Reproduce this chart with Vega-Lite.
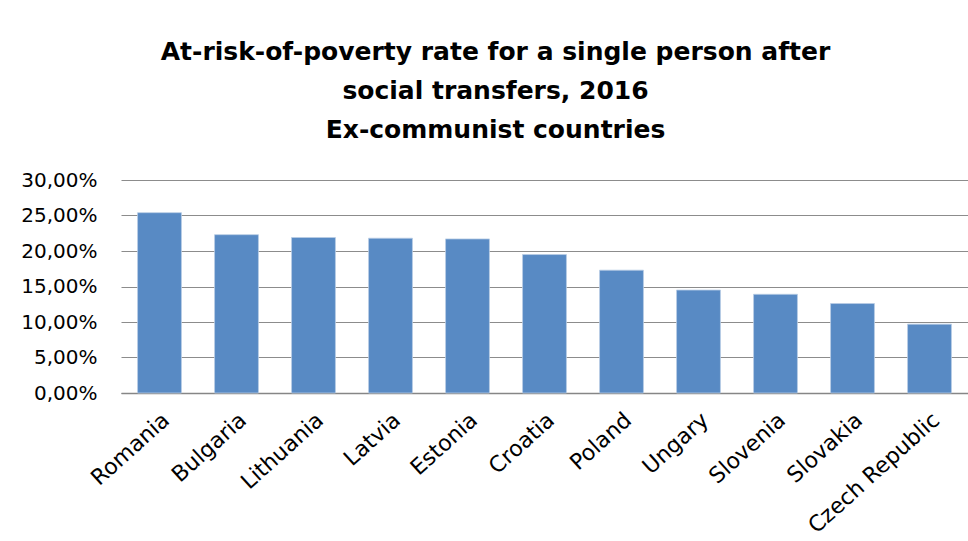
{
  "$schema": "https://vega.github.io/schema/vega-lite/v6.json",
  "width": 847,
  "height": 213,
  "autosize": {"type": "none"},
  "padding": {"left": 121, "top": 180, "right": 0, "bottom": 148},
  "background": "white",
  "config": {
    "locale": {"number": {"decimal": ",", "thousands": ".", "grouping": [3], "currency": ["", " €"]}},
    "view": {"stroke": null},
    "font": "DejaVu Sans"
  },
  "title": {
    "text": ["At-risk-of-poverty rate for a single person after", "social transfers, 2016", "Ex-communist countries"],
    "font": "DejaVu Sans",
    "fontSize": 25,
    "fontWeight": "bold",
    "color": "#000000",
    "lineHeight": 39,
    "anchor": "middle",
    "dx": -49,
    "offset": 27
  },
  "data": {
    "values": [
      {"country": "Romania", "rate": 0.254},
      {"country": "Bulgaria", "rate": 0.223},
      {"country": "Lithuania", "rate": 0.219},
      {"country": "Latvia", "rate": 0.218},
      {"country": "Estonia", "rate": 0.217},
      {"country": "Croatia", "rate": 0.195},
      {"country": "Poland", "rate": 0.173},
      {"country": "Ungary", "rate": 0.145},
      {"country": "Slovenia", "rate": 0.139},
      {"country": "Slovakia", "rate": 0.126},
      {"country": "Czech Republic", "rate": 0.097}
    ]
  },
  "mark": {"type": "bar", "color": "#588AC4", "stroke": "#B9CDE5", "strokeWidth": 0.8},
  "encoding": {
    "x": {
      "field": "country",
      "type": "nominal",
      "sort": null,
      "scale": {"paddingInner": 0.43, "paddingOuter": 0.215},
      "axis": {
        "title": null,
        "labelAngle": -42,
        "labelFontSize": 22,
        "labelColor": "#000000",
        "labelFont": "DejaVu Sans",
        "ticks": false,
        "labelPadding": 16,
        "domainColor": "#868686",
        "domainWidth": 1.5
      }
    },
    "y": {
      "field": "rate",
      "type": "quantitative",
      "scale": {"domain": [0, 0.3], "nice": false},
      "axis": {
        "title": null,
        "format": ".2%",
        "values": [0, 0.05, 0.1, 0.15, 0.2, 0.25, 0.3],
        "labelFontSize": 20,
        "labelColor": "#000000",
        "labelFont": "DejaVu Sans",
        "ticks": false,
        "labelPadding": 24,
        "domain": false,
        "gridColor": "#8C8C8C",
        "gridWidth": 1.2
      }
    }
  }
}
